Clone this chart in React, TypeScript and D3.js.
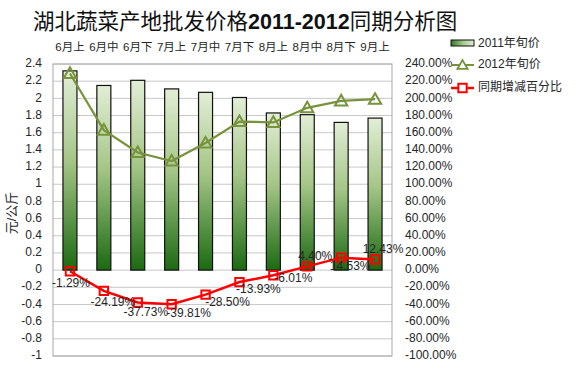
import React from "react";
import * as d3 from "d3";

const categories = ["6月上", "6月中", "6月下", "7月上", "7月中", "7月下", "8月上", "8月中", "8月下", "9月上"];
const price2011 = [2.32, 2.15, 2.21, 2.11, 2.07, 2.01, 1.83, 1.81, 1.72, 1.77];
const price2012 = [2.29, 1.63, 1.37, 1.27, 1.48, 1.73, 1.72, 1.89, 1.97, 1.99];
const changePct = [-0.0129, -0.2419, -0.3773, -0.3981, -0.285, -0.1393, -0.0601, 0.044, 0.1453, 0.1243];
const leftTicks = d3.range(-1, 2.4001, 0.2).map((v) => Math.round(v * 10) / 10);
const rightTicks = d3.range(-1, 2.4001, 0.2).map((v) => Math.round(v * 10) / 10);
const seriesNames = ["2011年旬价", "2012年旬价", "同期增减百分比"];
const titleParts = ["湖北蔬菜产地批发价格", "2011-2012", "同期分析图"];
const yTitle = "元/公斤";
// label offsets (style) for the percentage labels
const labelOffsets: [number, number][] = [
  [1, 13], [9, 12], [8, 10], [17, 10], [22, 8], [19, 8], [20, 4], [8, -10], [9, 9], [8, -10],
];

const W = 576, H = 382;
const M = { left: 53, right: 392, top: 64, bottom: 356 };
const FONT = "'Liberation Sans', Arial, 'Noto Sans CJK SC', sans-serif";

export default function App() {
  const x = d3.scaleBand<string>().domain(categories).range([M.left, M.right]);
  const yL = d3.scaleLinear().domain([-1, 2.4]).range([M.bottom, M.top]);
  const yR = d3.scaleLinear().domain([-1, 2.4]).range([M.bottom, M.top]);
  const cx = (i: number) => (x(categories[i]) as number) + x.bandwidth() / 2;
  const barW = 14;
  const pf = d3.format(".2%");
  const fmtPct = (v: number) => pf(v).replace("\u2212", "-");
  const line2012 = d3.line<number>().x((_, i) => cx(i)).y((d) => yL(d));
  const lineChg = d3.line<number>().x((_, i) => cx(i)).y((d) => yR(d));
  const tri = d3.symbol().type(d3.symbolTriangle).size(65)();
  const triLeg = d3.symbol().type(d3.symbolTriangle).size(45)();
  const sq = d3.symbol().type(d3.symbolSquare).size(70)();
  const green = "#77933c";
  const red = "#ff0000";
  const txt = "#262626";

  return (
    <svg width={W} height={H} style={{ position: "absolute", left: 0, top: 0, background: "#fff" }} fontFamily={FONT}>
      <defs>
        <linearGradient id="barGrad" x1="0" y1="0" x2="0" y2="1">
          <stop offset="0" stopColor="#e2eed6" />
          <stop offset="0.45" stopColor="#a5c687" />
          <stop offset="1" stopColor="#1c6a12" />
        </linearGradient>
        <linearGradient id="legGrad" x1="0" y1="0" x2="1" y2="0">
          <stop offset="0" stopColor="#2f7a22" />
          <stop offset="0.5" stopColor="#a5c687" />
          <stop offset="1" stopColor="#e2eed6" />
        </linearGradient>
      </defs>
      <rect width={W} height={H} fill="#fff" />
      {/* title */}
      <text x={33} y={29} fontSize={21.5} fill="#111" fontFamily="'Noto Sans CJK SC', sans-serif">
        <tspan>{titleParts[0]}</tspan>
        <tspan fontWeight="bold" fontFamily="'Liberation Sans', Arial, sans-serif">{titleParts[1]}</tspan>
        <tspan>{titleParts[2]}</tspan>
      </text>
      {/* gridlines */}
      {leftTicks.map((t) => (
        <line key={"g" + t} x1={M.left} x2={M.right} y1={yL(t)} y2={yL(t)} stroke="#c8c8c8" strokeWidth={1} />
      ))}
      <rect x={M.left} y={M.top} width={M.right - M.left} height={M.bottom - M.top} fill="none" stroke="#a8a8a8" strokeWidth={1} />
      {/* category labels */}
      {categories.map((c, i) => (
        <text key={c} x={cx(i)} y={48} fontSize={11.5} textAnchor="middle" dominantBaseline="middle" fill={txt}>{c}</text>
      ))}
      {/* left axis */}
      {leftTicks.map((t) => (
        <text key={"l" + t} x={42} y={yL(t)} fontSize={12} textAnchor="end" dominantBaseline="middle" fill={txt}>{String(t)}</text>
      ))}
      {/* right axis */}
      {rightTicks.map((t) => (
        <text key={"r" + t} x={405} y={yR(t)} fontSize={12} textAnchor="start" dominantBaseline="middle" fill={txt}>{fmtPct(t)}</text>
      ))}
      <text transform={`translate(13,213) rotate(-90)`} fontSize={13} textAnchor="middle" dominantBaseline="middle" fill={txt}>{yTitle}</text>
      {/* bars */}
      {price2011.map((v, i) => (
        <rect key={"b" + i} x={cx(i) - barW / 2} y={yL(v)} width={barW} height={yL(0) - yL(v)} fill="url(#barGrad)" stroke="#111" strokeWidth={1.2} />
      ))}
      {/* 2012 line */}
      <path d={line2012(price2012) || ""} fill="none" stroke={green} strokeWidth={2.2} />
      {price2012.map((v, i) => (
        <path key={"t" + i} d={tri || ""} transform={`translate(${cx(i)},${yL(v) + 1})`} fill="none" stroke={green} strokeWidth={2} />
      ))}
      {/* change line */}
      <path d={lineChg(changePct) || ""} fill="none" stroke={red} strokeWidth={2.5} />
      {changePct.map((v, i) => (
        <path key={"s" + i} d={sq || ""} transform={`translate(${cx(i)},${yR(v)})`} fill="none" stroke={red} strokeWidth={2} />
      ))}
      {changePct.map((v, i) => (
        <text key={"dl" + i} x={cx(i) + labelOffsets[i][0]} y={yR(v) + labelOffsets[i][1]} fontSize={12} textAnchor="middle" dominantBaseline="middle" fill={txt}>{fmtPct(v)}</text>
      ))}
      {/* legend */}
      <rect x={451} y={40} width={23} height={6} fill="url(#legGrad)" stroke="#111" strokeWidth={1} />
      <text x={478} y={44} fontSize={12} dominantBaseline="middle" fill={txt}>{seriesNames[0]}</text>
      <line x1={451} x2={474} y1={65} y2={65} stroke={green} strokeWidth={2} />
      <path d={triLeg || ""} transform={`translate(462.5,66)`} fill="#fff" stroke={green} strokeWidth={1.8} />
      <text x={478} y={65} fontSize={12} dominantBaseline="middle" fill={txt}>{seriesNames[1]}</text>
      <line x1={451} x2={474} y1={88} y2={88} stroke={red} strokeWidth={2.5} />
      <path d={sq || ""} transform={`translate(462.5,88)`} fill="#fff" stroke={red} strokeWidth={2} />
      <text x={478} y={88} fontSize={12} dominantBaseline="middle" fill={txt}>{seriesNames[2]}</text>
    </svg>
  );
}
